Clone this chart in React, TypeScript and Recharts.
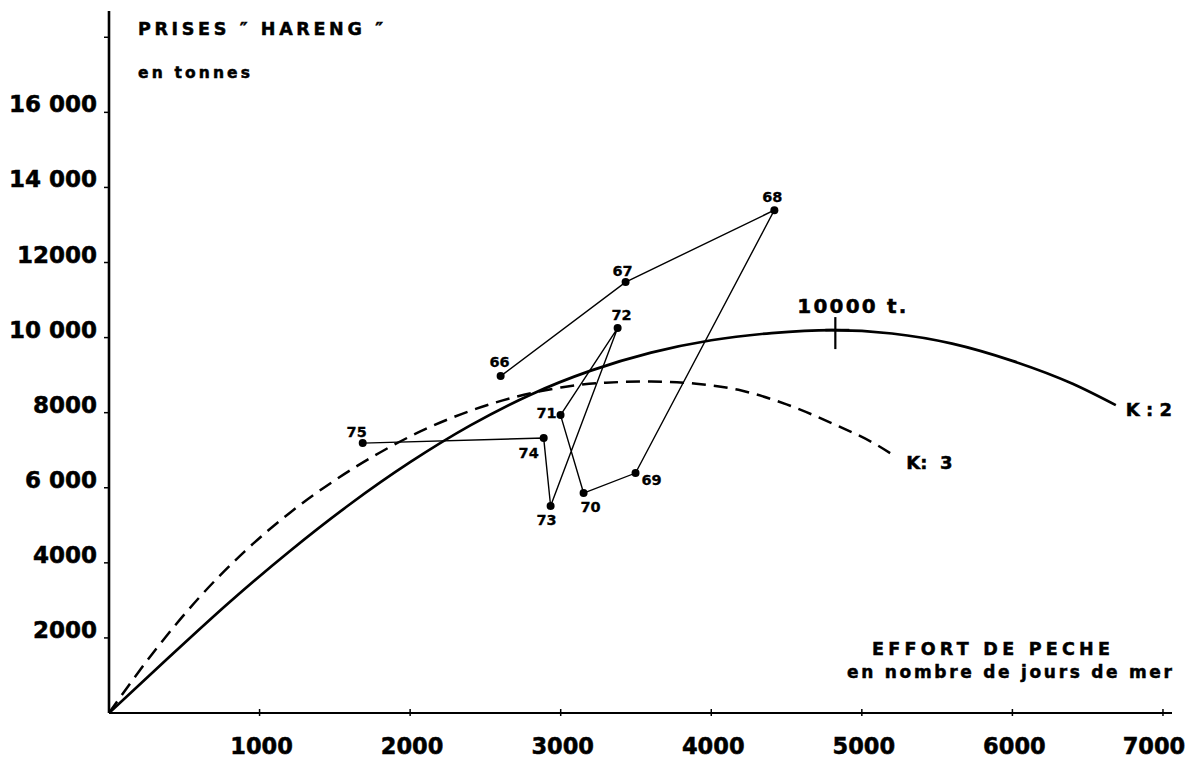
import React from "react";
import {
  ComposedChart,
  XAxis,
  YAxis,
  Line,
  Scatter,
  ReferenceDot,
} from "recharts";

const FONT = "'DejaVu Sans', 'Liberation Sans', sans-serif";

// courbe K : 2 (trait plein) — effort (jours de mer) / prises (t)
const k2Effort = [0, 400, 800, 1200, 1600, 2000, 2400, 2800, 3200, 3600, 4000, 4400, 4800, 5200, 5600, 6000, 6400, 6687];
const k2Catch = [0, 1490, 2950, 4310, 5560, 6680, 7660, 8480, 9120, 9600, 9930, 10120, 10200, 10110, 9840, 9380, 8770, 8200];

// courbe K : 3 (tirets)
const k3Effort = [0, 300, 600, 900, 1200, 1500, 1800, 2100, 2400, 2700, 3000, 3300, 3600, 3900, 4200, 4500, 4800, 5100, 5216];
const k3Catch = [0, 1640, 3080, 4300, 5330, 6200, 6940, 7560, 8050, 8420, 8670, 8800, 8830, 8770, 8590, 8220, 7720, 7140, 6850];

// points annuels, dans l'ordre chronologique
const years = ["66", "67", "68", "69", "70", "71", "72", "73", "74", "75"];
const yearEffort = [2601, 3431, 4419, 3497, 3152, 2999, 3378, 2933, 2887, 1685];
const yearCatch = [8975, 11478, 13395, 6392, 5859, 7936, 10253, 5513, 7324, 7190];

// maximum marqué d'une croix
const peakEffort = 4824;
const peakCatch = 10200;

const xTicks = [1000, 2000, 3000, 4000, 5000, 6000, 7000];
const yTicks = [2000, 4000, 6000, 8000, 10000, 12000, 14000, 16000, 18000];
const yTickLabels = ["2000", "4000", "6 000", "8000", "10 000", "12000", "14 000", "16 000", ""];

const k2 = k2Effort.map((e, i) => ({ e, y: k2Catch[i] }));
const k3 = k3Effort.map((e, i) => ({ e, y: k3Catch[i] }));
const catches = years.map((yr, i) => ({ yr, e: yearEffort[i], y: yearCatch[i] }));

// where each year number sits relative to its dot
const labelOffset: Record<string, [number, number]> = {
  "66": [-1, -14],
  "67": [-3, -11],
  "68": [-2, -13],
  "69": [16, 7],
  "70": [7, 14],
  "71": [-14, -2],
  "72": [4, -13],
  "73": [-4, 14],
  "74": [-15, 15],
  "75": [-6, -11],
};

// heavy, slightly inked look of the printed lettering
const ink = { fill: "#000", stroke: "#000", strokeWidth: 0.5 };

const XTick = ({ x, y, payload }: any) => {
  // the last label is pulled back inside the frame, as in the original
  const lx = payload.value === 7000 ? x - 9 : x + 2;
  return (
    <g>
      <line x1={x} x2={x} y1={y - 4} y2={y + 3} stroke="#000" strokeWidth={1.5} />
      <text x={lx} y={y + 41} textAnchor="middle" fontFamily={FONT} fontWeight={700} fontSize={22.5} {...ink}>
        {payload.value}
      </text>
    </g>
  );
};

const YTick = ({ x, y, payload }: any) => {
  const label = yTickLabels[yTicks.indexOf(payload.value)];
  return (
    <g>
      <line x1={x - 5} x2={x} y1={y} y2={y} stroke="#000" strokeWidth={1.5} />
      {label ? (
        <text x={x - 12} y={y} textAnchor="end" fontFamily={FONT} fontWeight={700} fontSize={23} {...ink}>
          {label}
        </text>
      ) : null}
    </g>
  );
};

const YearDot = ({ cx, cy, payload }: any) => {
  const [dx, dy] = labelOffset[payload.yr] || [0, -12];
  return (
    <g>
      <circle cx={cx} cy={cy} r={4} fill="#000" />
      <text
        x={cx + dx}
        y={cy + dy}
        textAnchor="middle"
        dominantBaseline="central"
        fontFamily={FONT}
        fontWeight={700}
        fontSize={14.5}
        {...ink}
        strokeWidth={0.3}
      >
        {payload.yr}
      </text>
    </g>
  );
};

const PeakCross = ({ cx, cy }: any) => (
  <g>
    <line x1={cx} x2={cx} y1={cy - 13} y2={cy + 19} stroke="#000" strokeWidth={2.2} />
    <line x1={cx - 10} x2={cx + 14} y1={cy} y2={cy} stroke="#000" strokeWidth={2.6} />
    <text x={cx - 38} y={cy - 17} textLength={109} lengthAdjust="spacing" fontFamily={FONT} fontWeight={700} fontSize={20} {...ink}>
      10000 t.
    </text>
  </g>
);

const KLabel = (text: string, dx: number, dy: number) => ({ cx, cy }: any) => (
  <text x={cx + dx} y={cy + dy} fontFamily={FONT} fontWeight={700} fontSize={18} {...ink}>
    {text}
  </text>
);

export default function App() {
  return (
    <div style={{ position: "absolute", left: 0, top: 0, width: 1192, height: 766, background: "#fff" }}>
      <ComposedChart width={1192} height={766} margin={{ top: 11, right: 20, bottom: 0, left: 0 }}>
        <XAxis
          type="number"
          dataKey="e"
          domain={[0, 7060]}
          ticks={xTicks}
          interval={0}
          allowDataOverflow
          height={53}
          axisLine={{ stroke: "#000", strokeWidth: 2 }}
          tickLine={false}
          tickSize={0}
          tickMargin={0}
          tick={<XTick />}
        />
        <YAxis
          type="number"
          dataKey="y"
          domain={[0, 18700]}
          ticks={yTicks}
          interval={0}
          allowDataOverflow
          width={109}
          axisLine={{ stroke: "#000", strokeWidth: 2.6 }}
          tickLine={false}
          tickSize={0}
          tickMargin={0}
          tick={<YTick />}
        />
        <Line
          data={k2}
          dataKey="y"
          type="monotone"
          stroke="#000"
          strokeWidth={2.7}
          dot={false}
          isAnimationActive={false}
        />
        <Line
          data={k3}
          dataKey="y"
          type="monotone"
          stroke="#000"
          strokeWidth={2.5}
          strokeDasharray="14 8"
          dot={false}
          isAnimationActive={false}
        />
        <Scatter
          data={catches}
          line={{ stroke: "#000", strokeWidth: 1.4 }}
          lineType="joint"
          shape={<YearDot />}
          isAnimationActive={false}
        />
        <ReferenceDot x={peakEffort} y={peakCatch} r={0} shape={<PeakCross />} />
        <ReferenceDot
          x={k2Effort[k2Effort.length - 1]}
          y={k2Catch[k2Catch.length - 1]}
          r={0}
          shape={KLabel("K : 2", 10, 11)}
        />
        <ReferenceDot
          x={k3Effort[k3Effort.length - 1]}
          y={k3Catch[k3Catch.length - 1]}
          r={0}
          shape={KLabel("K:\u00a0\u00a03", 12, 13)}
        />
      </ComposedChart>
      <svg
        width={1192}
        height={766}
        style={{ position: "absolute", left: 0, top: 0, pointerEvents: "none" }}
      >
        <g fontFamily={FONT} fontWeight={700} {...ink}>
          <text x={138} y={35} fontSize={17.5} textLength={245} lengthAdjust="spacing">
            PRISES ″ HARENG ″
          </text>
          <text x={138} y={78} fontSize={15.5} textLength={112} lengthAdjust="spacing">
            en tonnes
          </text>
          <text x={872} y={655} fontSize={17.5} textLength={238} lengthAdjust="spacing">
            EFFORT DE PECHE
          </text>
          <text x={847} y={678} fontSize={17} textLength={325} lengthAdjust="spacing">
            en nombre de jours de mer
          </text>
        </g>
      </svg>
    </div>
  );
}
